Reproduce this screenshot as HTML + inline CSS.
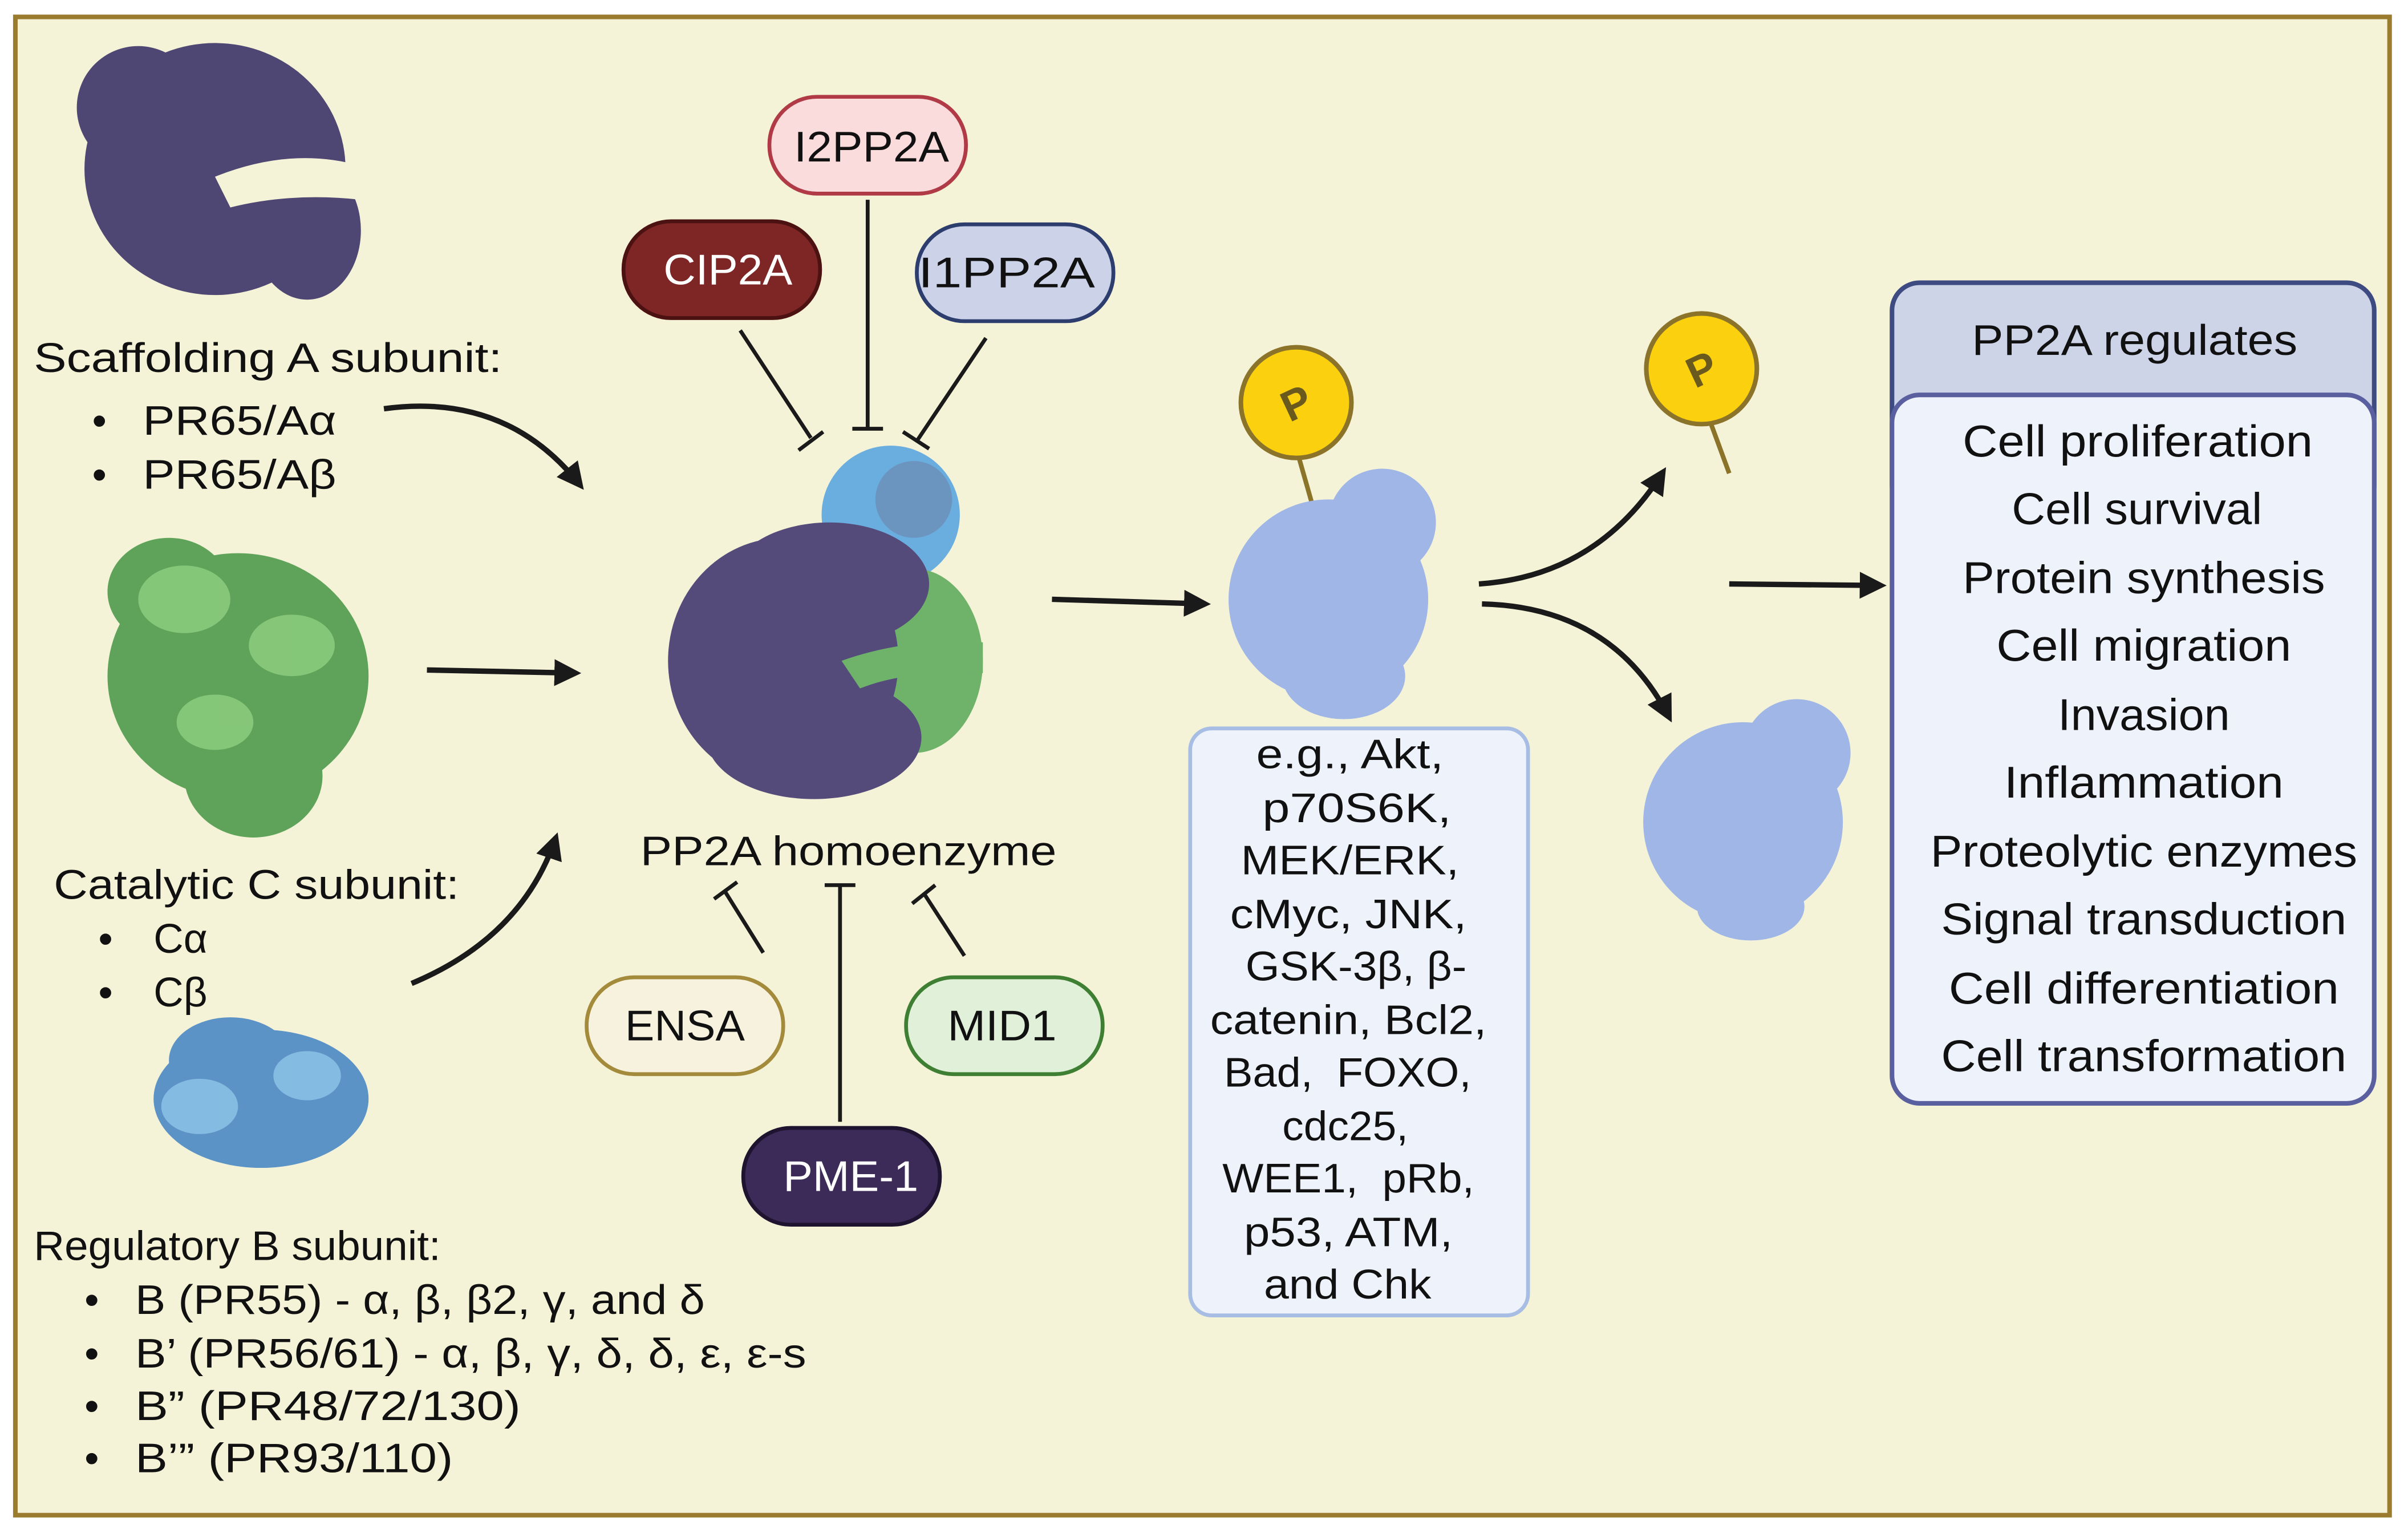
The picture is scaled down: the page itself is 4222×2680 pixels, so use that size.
<!DOCTYPE html>
<html><head><meta charset="utf-8"><style>
html,body{margin:0;padding:0;background:#fff}
svg{display:block}
text{font-family:"Liberation Sans",sans-serif;fill:#111}
</style></head><body>
<svg width="4222" height="2680" viewBox="0 0 1568 995" preserveAspectRatio="none" xmlns="http://www.w3.org/2000/svg">
<defs>
<marker id="ah" viewBox="0 0 10 10" refX="8" refY="5" markerWidth="5" markerHeight="5" orient="auto" markerUnits="strokeWidth"><path d="M0,0 L10,5 L0,10 z" fill="#1a1a1a"/></marker>
</defs>
<rect x="0" y="0" width="1568" height="995" fill="#fff"/>
<rect x="10" y="11" width="1546" height="975" fill="#f5f3d7" stroke="#9b7b2d" stroke-width="3"/>

<!-- Scaffolding A blob -->
<g fill="#4f4773">
<ellipse cx="140" cy="110" rx="85" ry="82"/>
<ellipse cx="90" cy="70" rx="40" ry="40"/>
<ellipse cx="200" cy="150" rx="35" ry="45"/>
</g>
<path d="M140,115 Q190,95 235,108 L235,130 Q190,125 150,135 z" fill="#f5f3d7"/>

<!-- Green catalytic blob -->
<g fill="#5fa35a">
<ellipse cx="155" cy="440" rx="85" ry="80"/>
<ellipse cx="165" cy="505" rx="45" ry="40"/>
<ellipse cx="110" cy="385" rx="40" ry="35"/>
</g>
<g fill="#8fcf80" opacity="0.8">
<ellipse cx="120" cy="390" rx="30" ry="22"/><ellipse cx="190" cy="420" rx="28" ry="20"/><ellipse cx="140" cy="470" rx="25" ry="18"/>
</g>

<!-- Regulatory B blob -->
<g fill="#5b93c7">
<ellipse cx="170" cy="715" rx="70" ry="45"/>
<ellipse cx="150" cy="690" rx="40" ry="28"/>
</g>
<g fill="#8ec5e8" opacity="0.8"><ellipse cx="130" cy="720" rx="25" ry="18"/><ellipse cx="200" cy="700" rx="22" ry="16"/></g>

<!-- Left texts -->
<g font-size="27" lengthAdjust="spacingAndGlyphs">
<text x="22" y="242" textLength="305" lengthAdjust="spacingAndGlyphs">Scaffolding A subunit:</text>
<text x="60" y="283">•</text><text x="93" y="283" textLength="126" lengthAdjust="spacingAndGlyphs">PR65/Aα</text>
<text x="60" y="318">•</text><text x="93" y="318" textLength="126" lengthAdjust="spacingAndGlyphs">PR65/Aβ</text>
<text x="35" y="585" textLength="264" lengthAdjust="spacingAndGlyphs">Catalytic C subunit:</text>
<text x="64" y="620">•</text><text x="100" y="620">Cα</text>
<text x="64" y="655">•</text><text x="100" y="655">Cβ</text>
<text x="22" y="820" textLength="265" lengthAdjust="spacingAndGlyphs">Regulatory B subunit:</text>
<text x="55" y="855">•</text><text x="88" y="855" textLength="371" lengthAdjust="spacingAndGlyphs">B (PR55) - α, β, β2, γ, and δ</text>
<text x="55" y="890">•</text><text x="88" y="890" textLength="437" lengthAdjust="spacingAndGlyphs">B’ (PR56/61) - α, β, γ, δ, δ, ε, ε-s</text>
<text x="55" y="924">•</text><text x="88" y="924" textLength="251" lengthAdjust="spacingAndGlyphs">B” (PR48/72/130)</text>
<text x="55" y="958">•</text><text x="88" y="958" textLength="207" lengthAdjust="spacingAndGlyphs">B’” (PR93/110)</text>
</g>

<!-- left arrows -->
<path d="M250,266 Q330,255 378,316" fill="none" stroke="#1a1a1a" stroke-width="3.5" marker-end="url(#ah)"/>
<path d="M278,436 L375,438" fill="none" stroke="#1a1a1a" stroke-width="3.5" marker-end="url(#ah)"/>
<path d="M268,640 Q340,610 362,545" fill="none" stroke="#1a1a1a" stroke-width="3.5" marker-end="url(#ah)"/>

<!-- homoenzyme -->
<g fill="#6aaee0"><ellipse cx="580" cy="335" rx="45" ry="45"/></g>
<g fill="#6b8fb5" opacity="0.8"><ellipse cx="595" cy="325" rx="25" ry="25"/></g>
<g fill="#6fb36b"><ellipse cx="595" cy="430" rx="45" ry="60"/></g>
<g fill="#544b7a">
<ellipse cx="510" cy="430" rx="75" ry="80"/>
<ellipse cx="540" cy="380" rx="65" ry="40"/>
<ellipse cx="530" cy="480" rx="70" ry="40"/>
</g>
<path d="M548,430 Q590,415 640,418 L640,438 Q590,436 560,448 z" fill="#6fb36b"/>
<text x="417" y="563" font-size="27" textLength="271" lengthAdjust="spacingAndGlyphs">PP2A homoenzyme</text>

<!-- inhibitors -->
<g stroke="#1a1a1a" stroke-width="2.5" fill="none">
<line x1="482" y1="215" x2="528" y2="285"/><line x1="520" y1="293" x2="536" y2="281"/>
<line x1="565" y1="130" x2="565" y2="278"/><line x1="555" y1="279" x2="575" y2="279"/>
<line x1="642" y1="220" x2="597" y2="287"/><line x1="588" y1="281" x2="605" y2="292"/>
<line x1="497" y1="620" x2="472" y2="580"/><line x1="465" y1="585" x2="480" y2="574"/>
<line x1="547" y1="730" x2="547" y2="576"/><line x1="537" y1="576" x2="557" y2="576"/>
<line x1="628" y1="622" x2="602" y2="582"/><line x1="594" y1="588" x2="609" y2="576"/>
</g>
<rect x="501" y="63" width="128" height="63" rx="31" fill="#fadcdc" stroke="#b03a45" stroke-width="2.5"/>
<text x="517" y="105" font-size="28" textLength="101" lengthAdjust="spacingAndGlyphs">I2PP2A</text>
<rect x="406" y="144" width="128" height="63" rx="31" fill="#7e2526" stroke="#4c1212" stroke-width="2.5"/>
<text x="432" y="185" font-size="28" textLength="84" lengthAdjust="spacingAndGlyphs" style="fill:#fff">CIP2A</text>
<rect x="597" y="146" width="128" height="63" rx="31" fill="#ccd3e8" stroke="#2c3d6e" stroke-width="2.5"/>
<text x="598" y="187" font-size="28" textLength="115" lengthAdjust="spacingAndGlyphs">I1PP2A</text>
<rect x="382" y="636" width="128" height="63" rx="31" fill="#f6f2de" stroke="#a48a3b" stroke-width="2.5"/>
<text x="407" y="677" font-size="28" textLength="78" lengthAdjust="spacingAndGlyphs">ENSA</text>
<rect x="590" y="636" width="128" height="63" rx="31" fill="#e1f0d9" stroke="#3f7f33" stroke-width="2.5"/>
<text x="617" y="677" font-size="28" textLength="71" lengthAdjust="spacingAndGlyphs">MID1</text>
<rect x="484" y="734" width="128" height="63" rx="31" fill="#3c2a58" stroke="#1e1430" stroke-width="2.5"/>
<text x="510" y="775" font-size="28" textLength="88" lengthAdjust="spacingAndGlyphs" style="fill:#fff">PME-1</text>

<path d="M685,390 L785,393" fill="none" stroke="#1a1a1a" stroke-width="3.5" marker-end="url(#ah)"/>

<!-- phosphorylated substrate -->
<line x1="845" y1="295" x2="855" y2="330" stroke="#8b7329" stroke-width="3"/>
<g fill="#9fb6e6">
<ellipse cx="865" cy="390" rx="65" ry="65"/>
<ellipse cx="900" cy="340" rx="35" ry="35"/>
<ellipse cx="875" cy="440" rx="40" ry="28"/>
</g>
<circle cx="844" cy="262" r="36" fill="#fbd10f" stroke="#8b7329" stroke-width="3"/>
<text x="844" y="272" font-size="28" font-weight="bold" text-anchor="middle" transform="rotate(-25 844 262)" style="fill:#6b5a1e">P</text>

<rect x="775" y="474" width="220" height="382" rx="14" fill="#eef2fa" stroke="#a8bde3" stroke-width="2.5"/>
<g font-size="27">
<text x="818" y="500" textLength="122" lengthAdjust="spacingAndGlyphs">e.g., Akt,</text>
<text x="822" y="535" textLength="123" lengthAdjust="spacingAndGlyphs">p70S6K,</text>
<text x="808" y="569" textLength="142" lengthAdjust="spacingAndGlyphs">MEK/ERK,</text>
<text x="801" y="604" textLength="154" lengthAdjust="spacingAndGlyphs">cMyc, JNK,</text>
<text x="811" y="638" textLength="144" lengthAdjust="spacingAndGlyphs">GSK-3β, β-</text>
<text x="788" y="673" textLength="180" lengthAdjust="spacingAndGlyphs">catenin, Bcl2,</text>
<text x="797" y="707" textLength="161" lengthAdjust="spacingAndGlyphs">Bad,&#160; FOXO,</text>
<text x="835" y="742" textLength="82" lengthAdjust="spacingAndGlyphs">cdc25,</text>
<text x="796" y="776" textLength="164" lengthAdjust="spacingAndGlyphs">WEE1,&#160; pRb,</text>
<text x="810" y="811" textLength="136" lengthAdjust="spacingAndGlyphs">p53, ATM,</text>
<text x="823" y="845" textLength="109" lengthAdjust="spacingAndGlyphs">and Chk</text>
</g>

<path d="M963,380 Q1040,375 1083,307" fill="none" stroke="#1a1a1a" stroke-width="3.5" marker-end="url(#ah)"/>
<path d="M965,393 Q1050,395 1087,467" fill="none" stroke="#1a1a1a" stroke-width="3.5" marker-end="url(#ah)"/>

<line x1="1112" y1="270" x2="1126" y2="308" stroke="#8b7329" stroke-width="3"/>
<circle cx="1108" cy="240" r="36" fill="#fbd10f" stroke="#8b7329" stroke-width="3"/>
<text x="1108" y="250" font-size="28" font-weight="bold" text-anchor="middle" transform="rotate(-25 1108 240)" style="fill:#6b5a1e">P</text>

<g fill="#9fb6e6">
<ellipse cx="1135" cy="535" rx="65" ry="65"/>
<ellipse cx="1170" cy="490" rx="35" ry="35"/>
<ellipse cx="1140" cy="590" rx="35" ry="22"/>
</g>

<path d="M1126,380 L1225,381" fill="none" stroke="#1a1a1a" stroke-width="3.5" marker-end="url(#ah)"/>

<rect x="1232" y="184" width="314" height="150" rx="18" fill="#cdd4e8" stroke="#3e4a82" stroke-width="3"/>
<text x="1284" y="231" font-size="28" textLength="212" lengthAdjust="spacingAndGlyphs">PP2A regulates</text>
<rect x="1232" y="257" width="314" height="461" rx="18" fill="#eef3fb" stroke="#5a5fa0" stroke-width="3"/>
<g font-size="29">
<text x="1278" y="297" textLength="228" lengthAdjust="spacingAndGlyphs">Cell proliferation</text>
<text x="1310" y="341" textLength="163" lengthAdjust="spacingAndGlyphs">Cell survival</text>
<text x="1278" y="386" textLength="236" lengthAdjust="spacingAndGlyphs">Protein synthesis</text>
<text x="1300" y="430" textLength="192" lengthAdjust="spacingAndGlyphs">Cell migration</text>
<text x="1340" y="475" textLength="112" lengthAdjust="spacingAndGlyphs">Invasion</text>
<text x="1305" y="519" textLength="182" lengthAdjust="spacingAndGlyphs">Inflammation</text>
<text x="1257" y="564" textLength="278" lengthAdjust="spacingAndGlyphs">Proteolytic enzymes</text>
<text x="1264" y="608" textLength="264" lengthAdjust="spacingAndGlyphs">Signal transduction</text>
<text x="1269" y="653" textLength="254" lengthAdjust="spacingAndGlyphs">Cell differentiation</text>
<text x="1264" y="697" textLength="264" lengthAdjust="spacingAndGlyphs">Cell transformation</text>
</g>
</svg>
</body></html>
